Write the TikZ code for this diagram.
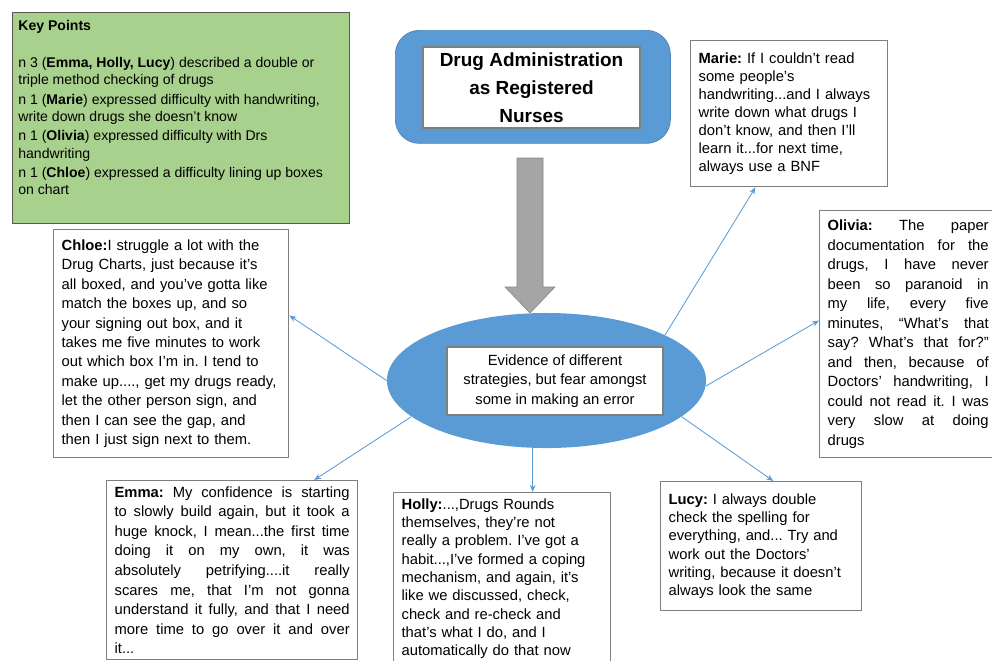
\documentclass[tikz,border=0pt]{standalone}
\usepackage{fontspec}
\setmainfont{Liberation Sans}
\usepackage{tikz}
\usetikzlibrary{arrows.meta,positioning,calc,shapes.geometric}
\definecolor{nhsblue}{RGB}{91,155,213}
\definecolor{keygreen}{RGB}{169,209,142}
\definecolor{boxgray}{RGB}{127,127,127}
\definecolor{arrowgray}{RGB}{165,165,165}
\tolerance=10000
\hbadness=10000
\frenchspacing
\tikzset{
    >={Stealth[length=5pt,width=4pt]},
    every picture/.style={line width=0.5pt},
    quotebox/.style={draw=boxgray,fill=white,line width=0.9pt,anchor=north west,
        align=left,inner xsep=0.2cm,inner ysep=0.15cm},
    justbox/.style={quotebox,align=justify},
    link/.style={->,draw=nhsblue,line width=0.6pt}
}

\begin{document}
\begin{tikzpicture}[x=0.025cm,y=-0.025cm]
    \useasboundingbox (0,0) rectangle (992,660);

    % key points panel
    \node[draw=black!65,fill=keygreen,line width=1pt,anchor=north west,
        minimum width=8.425cm,minimum height=5.275cm] (keybox) at (12,12) {};
    \node[anchor=north west,align=left,inner sep=0pt,font=\fontsize{10}{12.3}\selectfont]
        (keytext) at ([xshift=0.15cm,yshift=-0.2cm]keybox.north west)
        {\textbf{Key Points}\\[14pt]
        n 3 (\textbf{Emma, Holly, Lucy}) described a double or\\
        triple method checking of drugs\\[1.5pt]
        n 1 (\textbf{Marie}) expressed difficulty with handwriting,\\
        write down drugs she doesn't know\\[1.5pt]
        n 1 (\textbf{Olivia}) expressed difficulty with Drs\\
        handwriting\\[1.5pt]
        n 1 (\textbf{Chloe}) expressed a difficulty lining up boxes\\
        on chart};

    % theme title
    \node[fill=nhsblue,draw=nhsblue!85!black,rounded corners=0.6cm,anchor=north west,
        minimum width=6.875cm,minimum height=2.825cm] (titlebg) at (395,30) {};
    \node[draw=boxgray,fill=white,line width=0.9pt,minimum width=5.425cm,minimum height=2.025cm,
        align=center,font=\fontsize{13.5}{19.8}\selectfont\bfseries] (title) at (531.5,87.5)
        {Drug Administration\\as Registered\\Nurses};

    % block arrow down to the finding
    \fill[arrowgray,draw=arrowgray!80!black,line width=0.4pt]
        (517,158) -- (543,158) -- (543,287) -- (555,287) -- (530,313)
        -- (505,287) -- (517,287) -- cycle;

    % central finding
    \node[ellipse,fill=nhsblue,minimum width=7.975cm,minimum height=3.375cm] (hub) at (546.5,380.5) {};
    \node[draw=boxgray,fill=white,line width=0.9pt,minimum width=5.4cm,minimum height=1.7cm,
        align=center,font=\fontsize{10.5}{14}\selectfont] (hubtext) at (555,381)
        {Evidence of different\\strategies, but fear amongst\\some in making an error};

    % participant quotes
    \node[quotebox,text width=4.525cm,minimum height=3.65cm,font=\fontsize{10.5}{12.8}\selectfont]
        (marie) at (690,40)
        {\textbf{Marie:} If I couldn't read\\some people's\\handwriting...and I always\\
        write down what drugs I\\don't know, and then I'll\\learn it...for next time,\\always use a BNF};
    \node[justbox,text width=4.025cm,minimum height=6.175cm,font=\fontsize{10.5}{13.9}\selectfont]
        (olivia) at (819,210)
        {\textbf{Olivia:} The paper\linebreak documentation for the\linebreak drugs, I have never\linebreak
        been so paranoid in\linebreak my life, every five\linebreak minutes, ``What's that\linebreak
        say? What's that for?''\linebreak and then, because of\linebreak Doctors' handwriting, I\linebreak
        could not read it. I was\linebreak very slow at doing\linebreak drugs};
    \node[quotebox,text width=5.475cm,minimum height=5.7cm,font=\fontsize{10.5}{13.8}\selectfont]
        (chloe) at (53,229)
        {\textbf{Chloe:}I struggle a lot with the\\Drug Charts, just because it's\\
        all boxed, and you've gotta like\\match the boxes up, and so\\
        your signing out box, and it\\takes me five minutes to work\\
        out which box I'm in. I tend to\\make up...., get my drugs ready,\\
        let the other person sign, and\\then I can see the gap, and\\
        then I just sign next to them.};
    \node[justbox,text width=5.875cm,font=\fontsize{10.5}{13.9}\selectfont]
        (emma) at (106,480)
        {\textbf{Emma:} My confidence is starting\linebreak to slowly build again, but it took a\linebreak
        huge knock, I mean...the first time\linebreak doing it on my own, it was\linebreak
        absolutely petrifying....it really\linebreak scares me, that I'm not gonna\linebreak
        understand it fully, and that I need\linebreak more time to go over it and over\linebreak it...};
    \node[quotebox,text width=5.025cm,font=\fontsize{10.5}{13}\selectfont]
        (holly) at (393,492)
        {\textbf{Holly:}...,Drugs Rounds\\themselves, they're not\\really a problem. I've got a\\
        habit...,I've formed a coping\\mechanism, and again, it's\\like we discussed, check,\\
        check and re-check and\\that's what I do, and I\\automatically do that now};
    \node[quotebox,text width=4.625cm,minimum height=3.225cm,font=\fontsize{10.5}{13}\selectfont]
        (lucy) at (660,481)
        {\textbf{Lucy:} I always double\\check the spelling for\\everything, and... Try and\\
        work out the Doctors'\\writing, because it doesn't\\always look the same};

    % links from the finding
    \coordinate (hollyin) at ($(holly.north west)!0.64!(holly.north east)$);
    \draw[link] (hub.21) -- ($(marie.south west)!0.33!(marie.south east)$);
    \draw[link] (hub.west) -- ($(chloe.north east)!0.377!(chloe.south east)$);
    \draw[link] (hub.-2) -- ($(olivia.north west)!0.445!(olivia.south west)$);
    \draw[link] (hub.195) -- ($(emma.north west)!0.825!(emma.north east)$);
    \draw[link] (hollyin |- hub.south) -- (hollyin);
    \draw[link] (hub.-15) -- ($(lucy.north west)!0.56!(lucy.north east)$);
\end{tikzpicture}
\end{document}
